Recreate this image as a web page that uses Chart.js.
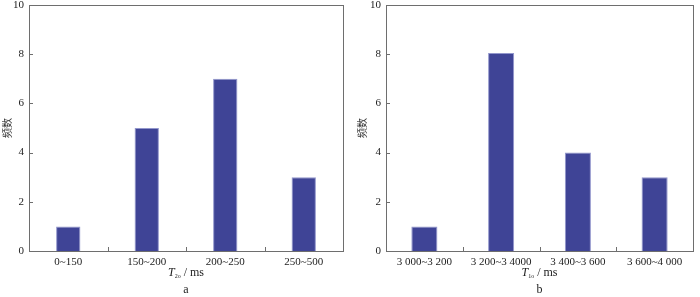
<!DOCTYPE html>
<html>
<head>
<meta charset="utf-8">
<script src="https://cdn.jsdelivr.net/npm/chart.js@4.4.0/dist/chart.umd.min.js"></script>
<style>
  html, body { margin: 0; padding: 0; background: #fff; }
  #wrap { position: relative; width: 700px; height: 297px; overflow: hidden; }
  .panel { position: absolute; top: 0; width: 350px; height: 297px; }
  .xt { position: absolute; font-family: "Liberation Serif", serif; font-size: 12px; color: #222; white-space: nowrap; transform: translateX(-50%); line-height: 1; }
  .xt sub { font-size: 6px; vertical-align: -2px; }
  .lab { position: absolute; font-family: "Liberation Serif", serif; font-size: 12px; color: #222; transform: translateX(-50%); line-height: 1; }
</style>
</head>
<body>
<div id="wrap">
  <div class="panel" id="pa" style="left:0"><canvas id="ca" width="350" height="297"></canvas></div>
  <div class="panel" id="pb" style="left:350px"><canvas id="cb" width="350" height="297"></canvas></div>
</div>
<script>
// ---- data ----
const categoriesA = ["0~150", "150~200", "200~250", "250~500"];
const valuesA = [1, 5, 7, 3];
const categoriesB = ["3 000~3 200", "3 200~3 4000", "3 400~3 600", "3 600~4 000"];
const valuesB = [1, 8.05, 4, 3];
const yTicks = [0, 2, 4, 6, 8, 10];
const yTitle = "频数";
const xTitleA = { sym: "T", sub: "2o", unit: " / ms" };
const xTitleB = { sym: "T", sub: "1o", unit: " / ms" };
const panelLabelA = "a";
const panelLabelB = "b";

const AXIS = "#6e6e6e";
const BAR = "#3f4496";
const BAR_EDGE = "#9296cc";
const SERIF = "'Liberation Serif', 'Times New Roman', serif";

const frameTicks = {
  id: "frameTicks",
  afterDraw(chart) {
    const ctx = chart.ctx, a = chart.chartArea;
    const x = chart.scales.x, y = chart.scales.y;
    ctx.save();
    ctx.strokeStyle = AXIS;
    ctx.lineWidth = 1;
    ctx.strokeRect(Math.round(a.left) + 0.5, Math.round(a.top) + 0.5,
                   Math.round(a.right - a.left), Math.round(a.bottom - a.top));
    ctx.beginPath();
    yTicks.slice(1, -1).forEach(v => {
      const py = Math.round(y.getPixelForValue(v)) + 0.5;
      ctx.moveTo(a.left, py); ctx.lineTo(a.left + 4, py);
    });
    const n = x.ticks.length;
    for (let i = 1; i < n; i++) {
      const px = Math.round((x.getPixelForValue(i - 1) + x.getPixelForValue(i)) / 2) + 0.5;
      ctx.moveTo(px, a.bottom); ctx.lineTo(px, a.bottom - 4);
    }
    ctx.stroke();
    ctx.restore();
  }
};

function titleOverlay(panelId, t, label) {
  return {
    id: "titleOverlay",
    afterRender(chart) {
      const p = document.getElementById(panelId);
      if (p.querySelector(".xt")) return;
      const a = chart.chartArea;
      const cx = (a.left + a.right) / 2;
      const d = document.createElement("div");
      d.className = "xt";
      d.style.left = cx + "px";
      d.style.top = "266px";
      d.innerHTML = "<i>" + t.sym + "</i><sub>" + t.sub + "</sub>" + t.unit;
      p.appendChild(d);
      const l = document.createElement("div");
      l.className = "lab";
      l.style.left = cx + "px";
      l.style.top = "283px";
      l.textContent = label;
      p.appendChild(l);
    }
  };
}

function makeChart(canvasId, panelId, cats, vals, yWidth, barPct, titlePad, xt, lab) {
  return new Chart(document.getElementById(canvasId), {
    type: "bar",
    data: {
      labels: cats,
      datasets: [{
        data: vals,
        backgroundColor: BAR,
        borderColor: BAR_EDGE,
        borderWidth: 1,
        categoryPercentage: 1.0,
        barPercentage: barPct
      }]
    },
    options: {
      responsive: false,
      devicePixelRatio: 1,
      animation: false,
      layout: { padding: { top: 5, right: 7, left: 0, bottom: 0 } },
      plugins: { legend: { display: false }, tooltip: { enabled: false } },
      scales: {
        x: {
          grid: { display: false, drawTicks: false },
          border: { display: false },
          ticks: { color: "#222", font: { family: SERIF, size: 11 }, padding: 5, maxRotation: 0, autoSkip: false },
          afterFit(s) { s.height = 46; s.paddingLeft = 0; s.paddingRight = 0; }
        },
        y: {
          min: 0, max: 10,
          grid: { display: false, drawTicks: false },
          border: { display: false },
          afterBuildTicks(s) { s.ticks = yTicks.map(v => ({ value: v })); },
          ticks: { color: "#222", font: { family: SERIF, size: 11 }, padding: 5 },
          title: { display: true, text: yTitle, color: "#333",
                   font: { family: "'Noto Sans CJK SC', sans-serif", size: 10 },
                   padding: { top: titlePad, bottom: 0 } },
          afterFit(s) { s.width = yWidth; s.paddingTop = 0; s.paddingBottom = 0; }
        }
      }
    },
    plugins: [frameTicks, titleOverlay(panelId, xt, lab)]
  });
}

makeChart("ca", "pa", categoriesA, valuesA, 29, 0.31, 1, xTitleA, panelLabelA);
makeChart("cb", "pb", categoriesB, valuesB, 36, 0.34, 6, xTitleB, panelLabelB);
</script>
</body>
</html>
